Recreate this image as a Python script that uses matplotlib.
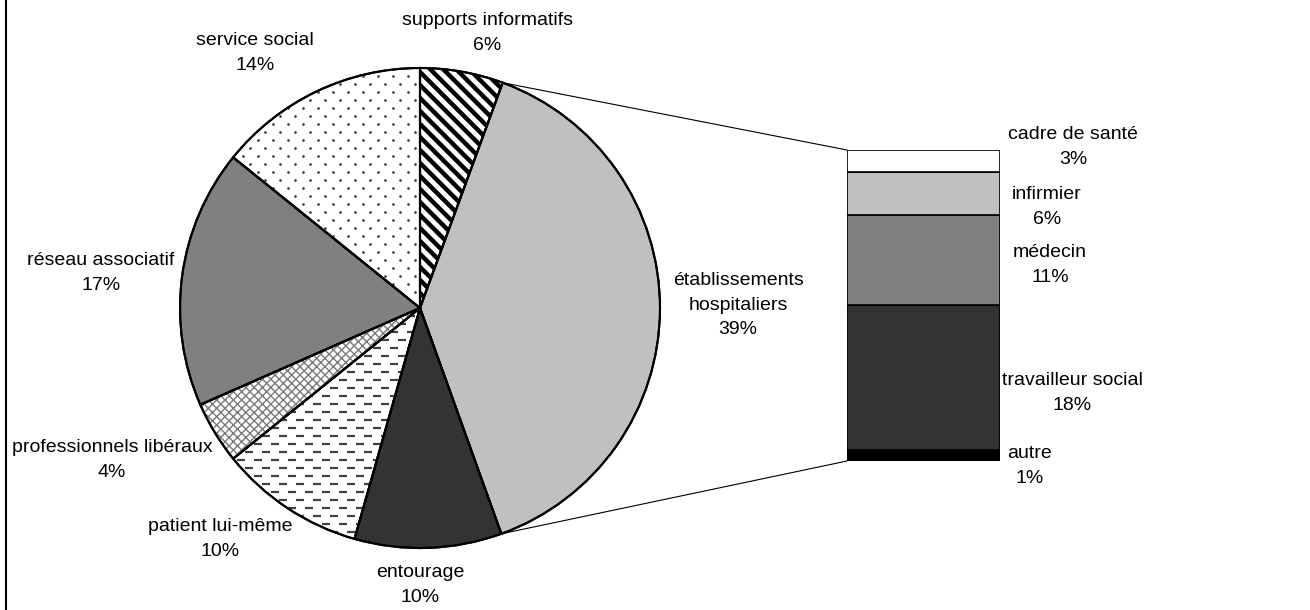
import numpy as np
import matplotlib
matplotlib.use("Agg")
import matplotlib.pyplot as plt
from matplotlib.patches import ConnectionPatch, Wedge
from matplotlib.collections import LineCollection

plt.rcParams['font.family'] = ['Liberation Sans', 'DejaVu Sans']
plt.rcParams['hatch.linewidth'] = 1.0

# ---- data ----
pie_labels = ["supports informatifs", "établissements\nhospitaliers", "entourage",
              "patient lui-même", "professionnels libéraux", "réseau associatif",
              "service social"]
pie_values = [5.6, 38.9, 9.9, 9.8, 4.2, 17.4, 14.2]
pie_pct = ["6%", "39%", "10%", "10%", "4%", "17%", "14%"]

bar_labels = ["autre", "travailleur social", "médecin", "infirmier", "cadre de santé"]
bar_values = [1.4, 18.2, 11.2, 5.5, 2.7]
bar_pct = ["1%", "18%", "11%", "6%", "3%"]

W, H = 1310, 610
fig = plt.figure(figsize=(W / 100, H / 100), dpi=100)

# bar of pie axes (drawn underneath the main overlay axes)
bx0, by0, bw, bh = 847, 461, 153, 311
bax = fig.add_axes([bx0 / W, (H - by0) / H, bw / W, bh / H], zorder=0)
ax = fig.add_axes([0, 0, 1, 1], zorder=1)
ax.patch.set_alpha(0)

cx, cy, R = 420, 610 - 308, 240
pie_colors = ['white', '#C0C0C0', '#333333', 'white', 'white', '#808080', 'white']
wedges, _ = ax.pie(pie_values, colors=pie_colors, startangle=90, counterclock=False,
                   center=(cx, cy), radius=R, frame=True,
                   wedgeprops=dict(edgecolor='black', linewidth=1.5))
ax.set_xlim(0, W)
ax.set_ylim(0, H)
ax.set_aspect('equal')
ax.axis('off')

for w in wedges:
    w.set_zorder(1)

# custom fill patterns clipped to wedges
def clip_lines(segs, wedge, color, lw):
    lc = LineCollection(segs, colors=color, linewidths=lw, zorder=2)
    ax.add_collection(lc)
    lc.set_clip_path(wedge)

# supports informatifs: thick diagonal stripes
segs = []
for c in np.arange(cx - 700, cx + 700, 13):
    segs.append([(c - 400, cy + 400), (c + 400, cy - 400)])
clip_lines(segs, wedges[0], 'black', 3.2)

# patient lui-même: short horizontal dashes
segs = []
for j, y in enumerate(np.arange(cy - R, cy + R, 8)):
    off = 8.5 if j % 2 else 0
    for x in np.arange(cx - R - 20 + off, cx + R, 17):
        segs.append([(x, y), (x + 8, y)])
clip_lines(segs, wedges[3], '#404040', 1.6)

# professionnels libéraux: weave texture (grey hatch)
w4 = wedges[4]
ax.add_patch(Wedge(w4.center, w4.r, w4.theta1, w4.theta2, facecolor='none',
                   edgecolor='#7a7a7a', linewidth=0, hatch='xxxx', zorder=2))

# service social: sparse dots
pts = []
for j, y in enumerate(np.arange(cy - R, cy + R, 8)):
    off = 7.5 if j % 2 else 0
    for x in np.arange(cx - R - 20 + off, cx + R, 15):
        pts.append((x, y))
pts = np.array(pts)
sc = ax.scatter(pts[:, 0], pts[:, 1], s=3.5, c='#333333', linewidths=0, zorder=2)
sc.set_clip_path(wedges[6])

# redraw outlines on top
for w in wedges:
    ax.add_patch(Wedge(w.center, w.r, w.theta1, w.theta2, fill=False,
                       edgecolor='black', linewidth=1.5, zorder=5))

fs = 14
ls = 1.55

# pie labels (block centres, pixel positions)
pie_text_pos = [(487, 33), (738, 305), (420, 585), (220, 539), (112, 460), (101, 273), (255, 53)]
for lab, pct, (x, y) in zip(pie_labels, pie_pct, pie_text_pos):
    ax.text(x, H - y, lab + "\n" + pct, ha='center', va='center', fontsize=fs,
            linespacing=ls)

# stacked bar
bar_colors = ['black', '#333333', '#808080', '#C0C0C0', 'white']
bottom = 0
for v, c in zip(bar_values, bar_colors):
    bax.bar(0.5, v, width=1, bottom=bottom, color=c, edgecolor='black', linewidth=1.2)
    bottom += v
bax.set_xlim(0, 1)
bax.set_ylim(0, sum(bar_values))
bax.axis('off')

bar_text_pos = [(1030, 466), (1072, 393), (1050, 265), (1047, 207), (1073, 147)]
for lab, pct, (x, y) in zip(bar_labels, bar_pct, bar_text_pos):
    ax.text(x, H - y, lab + "\n" + pct, ha='center', va='center', fontsize=fs, linespacing=ls)

# connection lines
t_top = np.deg2rad(90 - 360 * pie_values[0] / 100)
t_bot = np.deg2rad(90 - 360 * (pie_values[0] + pie_values[1]) / 100)
for t, yb in [(t_top, 1), (t_bot, 0)]:
    con = ConnectionPatch(xyA=(cx + R * np.cos(t), cy + R * np.sin(t)), coordsA=ax.transData,
                          xyB=(0, yb), coordsB=bax.transAxes, color='black', linewidth=0.8)
    fig.add_artist(con)

# left border line
ax.plot([6, 6], [0, H], color='black', linewidth=1.5)

fig.savefig("out.png", dpi=100, facecolor='white')
